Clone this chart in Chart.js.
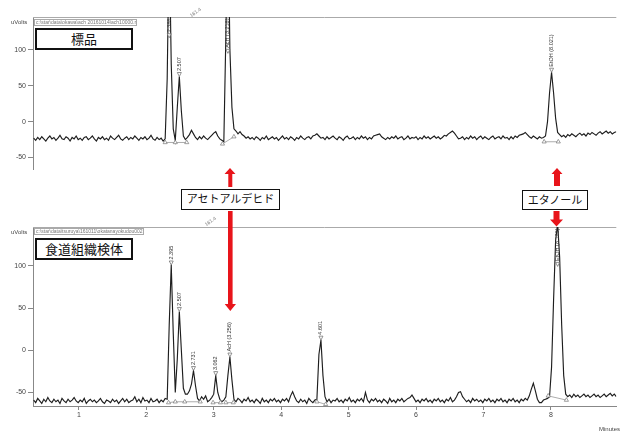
<!DOCTYPE html>
<html>
<head>
<meta charset="utf-8">
<script src="https://cdn.jsdelivr.net/npm/chart.js@4.4.0/dist/chart.umd.min.js"></script>
<style>
  html, body { margin:0; padding:0; background:#fff; }
  body { width:621px; height:434px; position:relative; overflow:hidden; font-family:Arial, "Liberation Sans", sans-serif; }
  canvas { position:absolute; left:0; }
  #topChart { top:0; }
  #bottomChart { top:200px; }
  .tag { position:absolute; background:#fff; border:2px solid #111; box-sizing:border-box; text-align:center; font-family:"Noto Sans CJK JP", sans-serif; color:#111; z-index:3; }
  .path { position:absolute; border:1px solid #aaa; font-size:5px; color:#777; line-height:5px; white-space:nowrap; padding:0 1px; box-sizing:border-box; overflow:hidden; }
  .unit { position:absolute; font-size:6px; color:#444; }
  .mark { position:absolute; font-size:5px; color:#777; transform:rotate(-35deg); }
  svg { position:absolute; left:0; top:0; z-index:2; }
</style>
</head>
<body>
<canvas id="topChart" width="621" height="200"></canvas>
<canvas id="bottomChart" width="621" height="234"></canvas>

<div class="unit" style="left:11px;top:19px;">uVolts</div>
<div class="unit" style="left:11px;top:229px;">uVolts</div>
<div class="path" style="left:34px;top:19px;width:103px;height:7px;">c:\star\data\okawa\ach 20161014\ach10000.run</div>
<div class="path" style="left:34px;top:228px;width:110px;height:7px;">c:\star\data\tsuruya\161011\okatanayokudou002.run</div>
<div class="mark" style="left:189px;top:9px;">161.4</div>
<div class="mark" style="left:204px;top:218px;">161.4</div>
<div class="unit" style="left:599px;top:426px;">Minutes</div>

<div class="tag" style="left:35px;top:28px;width:98px;height:22px;font-size:13px;line-height:18px;">標品</div>
<div class="tag" style="left:35px;top:238px;width:98px;height:22px;font-size:13px;line-height:18px;">食道組織検体</div>
<div class="tag" style="left:181px;top:189px;width:99px;height:21px;font-size:11px;line-height:17px;border-width:1.5px;">アセトアルデヒド</div>
<div class="tag" style="left:522px;top:190px;width:66px;height:20px;font-size:11px;line-height:17px;border-width:1.5px;">エタノール</div>

<svg width="621" height="434">
  <g fill="#e8141a">
    <polygon points="230,168 235.5,174 232.3,174 232.3,187 228.3,187 228.3,174 224.5,174"/>
    <polygon points="228,211 232.6,211 232.6,304 236,304 230.3,311 224.7,304 228,304"/>
    <polygon points="557,168 562.5,174 560,174 560,186 554,186 554,174 551.5,174"/>
    <polygon points="553.5,211 559.5,211 559.5,219.5 563,219.5 556.5,226.5 550,219.5 553.5,219.5"/>
  </g>
</svg>

<script>
// detector trace sampled every 0.03 min starting at 0.33 min
const sampleStart = 0.33;
const sampleStep = 0.03;
const xMin = 0.32, xMax = 8.97;
const yMin = -66, yMax = 146;
const xTicks = [1, 2, 3, 4, 5, 6, 7, 8];
const yTicks = [-50, 0, 50, 100];

// 標品 (standard)
const topSignal = [
  -23,-26,-22,-25,-21,-24,-27,-23,-20,-24,
  -22,-26,-23,-19,-24,-25,-21,-23,-27,-22,
  -24,-20,-25,-23,-26,-22,-21,-25,-23,-20,
  -24,-27,-22,-24,-21,-25,-23,-26,-20,-23,
  -25,-22,-19,-24,-26,-23,-21,-25,-22,-24,
  -20,-23,-26,-22,-24,-21,-25,-23,-19,-24,
  -26,-22,-25,-23,-27,-24,60,260,80,-10,
  -26,20,63,15,-20,-25,-22,-18,-12,-17,
  -22,-25,-21,-24,-20,-23,-25,-22,-19,-16,
  -14,-20,-24,-26,-28,120,300,100,20,-10,
  -13,-17,-14,-18,-20,-23,-21,-24,-22,-25,
  -21,-23,-26,-22,-24,-20,-25,-23,-21,-24,
  -22,-26,-23,-20,-24,-22,-25,-21,-23,-26,
  -22,-24,-20,-23,-25,-22,-21,-24,-20,-19,
  -17,-20,-23,-22,-25,-21,-24,-22,-20,-23,
  -25,-21,-23,-26,-22,-20,-24,-23,-21,-25,
  -22,-24,-20,-23,-21,-25,-22,-24,-20,-19,
  -18,-17,-21,-23,-25,-22,-24,-21,-23,-20,
  -24,-22,-21,-25,-23,-20,-24,-22,-23,-21,
  -25,-22,-24,-20,-23,-21,-24,-22,-20,-23,
  -21,-24,-22,-19,-20,-17,-15,-13,-16,-20,
  -24,-23,-21,-25,-22,-24,-20,-23,-21,-25,
  -22,-20,-24,-21,-23,-25,-22,-20,-24,-22,
  -21,-24,-20,-23,-22,-25,-21,-24,-20,-22,
  -19,-18,-17,-15,-18,-21,-23,-20,-22,-24,
  -21,-23,-22,-20,0,40,69,40,5,-15,
  -18,-21,-19,-22,-18,-20,-17,-19,-21,-18,
  -16,-19,-17,-20,-16,-18,-15,-17,-19,-16,
  -14,-17,-15,-13,-16,-14,-17,-15,-14
];
const topPeakIndex = [67, 72, 96, 256];
const topPeakNames = ['2.386', '2.507', 'AcH (3.218)', 'EtOH (8.021)'];
const topMarks = [
  [[2.28, -29], [2.43, -29], [2.60, -29]],
  [[3.13, -31], [3.30, -21]],
  [[7.90, -28], [8.11, -28]]
];

// 食道組織検体 (esophageal tissue sample)
const bottomSignal = [
  -59,-62,-57,-60,-63,-58,-61,-56,-60,-62,
  -58,-61,-59,-63,-57,-60,-62,-58,-61,-59,
  -56,-60,-62,-59,-61,-57,-63,-60,-58,-61,
  -59,-62,-60,-57,-61,-63,-59,-60,-62,-58,
  -61,-59,-63,-60,-57,-61,-58,-62,-60,-59,
  -55,-61,-58,-62,-56,-60,-59,-62,-57,-61,
  -60,-58,-62,-59,-61,-57,-58,30,101,20,
  -50,-10,46,0,-45,-52,-52,-48,-40,-24,
  -42,-57,-60,-55,-58,-54,-61,-59,-56,-52,
  -30,-50,-58,-61,-59,-55,-30,-8,-35,-58,
  -61,-57,-59,-62,-58,-60,-56,-61,-59,-62,
  -58,-60,-63,-57,-61,-59,-62,-58,-60,-57,
  -61,-59,-62,-58,-60,-57,-61,-54,-49,-55,
  -60,-62,-58,-61,-59,-63,-57,-60,-62,-59,
  -58,-5,12,-30,-55,-61,-58,-62,-59,-60,
  -57,-61,-59,-62,-58,-60,-56,-61,-59,-62,
  -58,-60,-57,-61,-50,-59,-62,-58,-60,-57,
  -61,-59,-62,-58,-60,-63,-57,-61,-59,-62,
  -58,-60,-57,-61,-59,-57,-56,-53,-57,-61,
  -59,-62,-58,-60,-57,-61,-59,-62,-58,-60,
  -57,-61,-59,-62,-58,-60,-56,-61,-59,-55,
  -50,-49,-55,-58,-61,-59,-62,-57,-60,-58,
  -61,-59,-62,-58,-60,-57,-61,-59,-62,-58,
  -60,-57,-61,-59,-62,-58,-60,-57,-61,-59,
  -62,-58,-60,-57,-59,-54,-46,-39,-48,-58,
  -62,-62,-59,-58,-57,-55,-20,60,130,150,
  110,30,-30,-52,-55,-53,-56,-52,-55,-53,
  -56,-54,-52,-55,-53,-56,-54,-52,-55,-53,
  -56,-54,-52,-55,-53,-51,-54,-52,-55
];
const bottomPeakIndex = [68, 72, 79, 90, 97, 142, 259];
const bottomPeakNames = ['2.395', '2.507', '2.731', '3.062', 'AcH (3.256)', '4.601', 'EtOH (8.126)'];
const bottomMarks = [
  [[2.33, -62], [2.43, -61], [2.57, -61], [2.80, -61]],
  [[2.99, -62], [3.10, -62]],
  [[3.18, -62], [3.29, -62]],
  [[4.53, -61], [4.66, -64]],
  [[7.96, -54], [8.23, -59]]
];

const frameLine = {
  id: 'frameLine',
  beforeDatasetsDraw(chart) {
    const { ctx, chartArea } = chart;
    ctx.save();
    ctx.strokeStyle = '#aaa';
    ctx.lineWidth = 1;
    ctx.beginPath();
    ctx.moveTo(chartArea.left, chartArea.top + 0.5);
    ctx.lineTo(chartArea.right, chartArea.top + 0.5);
    ctx.stroke();
    ctx.restore();
  }
};

const peakLabels = {
  id: 'peakLabels',
  afterDatasetsDraw(chart, args, opts) {
    const { ctx, chartArea, scales } = chart;
    ctx.save();
    ctx.font = '5.5px Arial';
    ctx.textBaseline = 'middle';
    ctx.lineWidth = 0.7;
    opts.index.forEach((k, i) => {
      const name = opts.names[i];
      const px = scales.x.getPixelForValue(sampleStart + k * sampleStep);
      const v = opts.signal[k];
      let base;
      if (v > scales.y.max) {
        base = chartArea.top + ctx.measureText(name).width + 7;
      } else {
        base = scales.y.getPixelForValue(v);
      }
      ctx.beginPath();
      ctx.moveTo(px, base);
      ctx.lineTo(px - 2, base - 4);
      ctx.lineTo(px + 2, base - 4);
      ctx.closePath();
      ctx.fillStyle = '#fff';
      ctx.strokeStyle = '#666';
      ctx.fill();
      ctx.stroke();
      ctx.save();
      ctx.translate(px, base - 5.5);
      ctx.rotate(-Math.PI / 2);
      ctx.fillStyle = '#333';
      ctx.textAlign = 'left';
      ctx.fillText(name, 0, 0);
      ctx.restore();
    });
    ctx.restore();
  }
};

function makeChart(id, signal, peakIndex, peakNames, marks, showX, padTop, padBottom) {
  const markSets = marks.map(group => ({
    data: group.map(p => ({ x: p[0], y: p[1] })),
    borderColor: '#888',
    borderWidth: 0.7,
    pointStyle: 'triangle',
    pointRadius: 2.4,
    pointBackgroundColor: '#fff',
    pointBorderColor: '#777',
    pointBorderWidth: 0.7
  }));

  return new Chart(document.getElementById(id), {
    type: 'line',
    data: {
      datasets: markSets.concat([{
        data: signal.map((v, k) => ({ x: sampleStart + k * sampleStep, y: v })),
        borderColor: '#1e1e1e',
        borderWidth: 1.15,
        pointRadius: 0,
        tension: 0
      }])
    },
    options: {
      responsive: false,
      animation: false,
      events: [],
      layout: { padding: { top: padTop, bottom: padBottom, left: 0, right: 0 } },
      plugins: {
        legend: { display: false },
        tooltip: { enabled: false },
        peakLabels: { index: peakIndex, names: peakNames, signal: signal }
      },
      scales: {
        x: {
          type: 'linear',
          min: xMin,
          max: xMax,
          display: showX,
          afterBuildTicks: s => { s.ticks = xTicks.map(v => ({ value: v })); },
          afterFit: s => { s.height = 28; },
          grid: { drawOnChartArea: false, drawTicks: true, tickLength: 4, color: '#888' },
          border: { color: '#888', width: 1 },
          ticks: { font: { size: 7, family: 'Arial' }, color: '#444', padding: 1, maxRotation: 0 }
        },
        y: {
          min: yMin,
          max: yMax,
          afterBuildTicks: s => { s.ticks = yTicks.map(v => ({ value: v })); },
          afterFit: s => { s.width = 33; },
          grid: { drawOnChartArea: false, drawTicks: true, tickLength: 5, color: '#888' },
          border: { color: '#888', width: 1 },
          ticks: { font: { size: 7, family: 'Arial' }, color: '#444', padding: 2 }
        }
      }
    },
    plugins: [frameLine, peakLabels]
  });
}

makeChart('topChart', topSignal, topPeakIndex, topPeakNames, topMarks, false, 17, 3);
makeChart('bottomChart', bottomSignal, bottomPeakIndex, bottomPeakNames, bottomMarks, true, 27, 0);
</script>
</body>
</html>
